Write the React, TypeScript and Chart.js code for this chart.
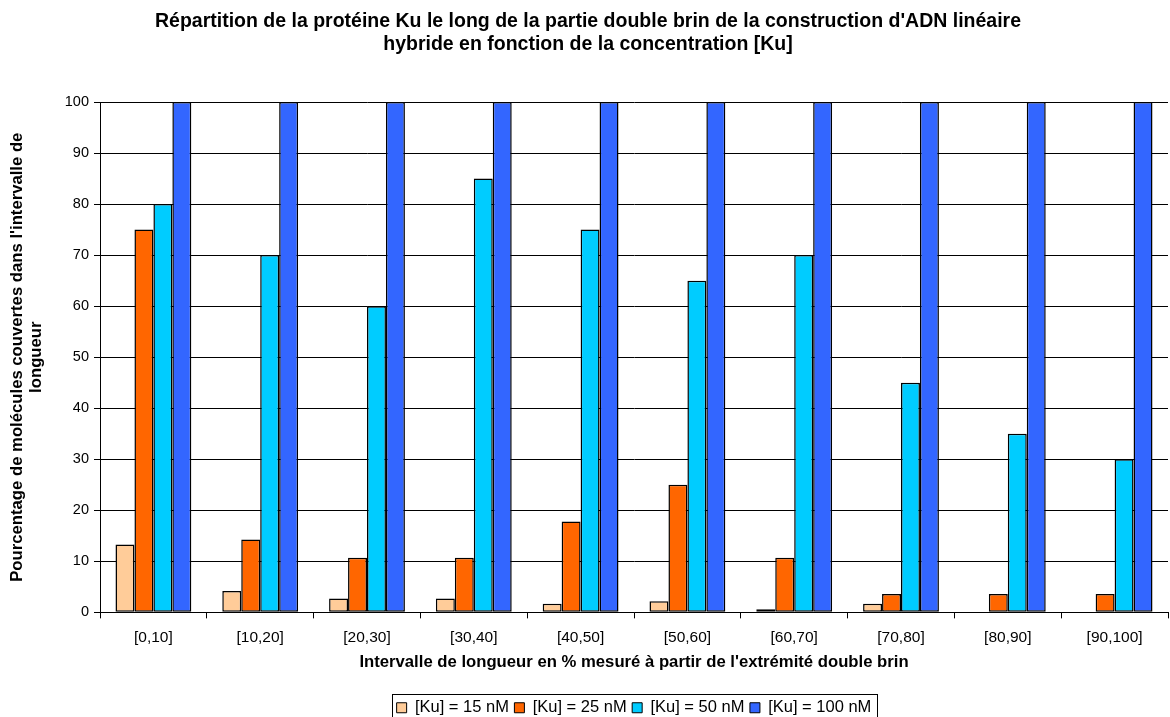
import React, { useEffect, useRef } from "react";
import { Chart, registerables } from "chart.js";

Chart.register(...registerables);

const categories = ["[0,10]", "[10,20]", "[20,30]", "[30,40]", "[40,50]", "[50,60]", "[60,70]", "[70,80]", "[80,90]", "[90,100]"];
const ku15 = [13.3, 4.2, 2.7, 2.7, 1.7, 2.2, 0.6, 1.7, 0, 0];
const ku25 = [75, 14.3, 10.7, 10.7, 17.8, 25, 10.7, 3.6, 3.6, 3.6];
const ku50 = [80, 70, 60, 85, 75, 65, 70, 45, 35, 30];
const ku100 = [100, 100, 100, 100, 100, 100, 100, 100, 100, 100];
const seriesLabels = ["[Ku] = 15 nM", "[Ku] = 25 nM", "[Ku] = 50 nM", "[Ku] = 100 nM"];
const seriesColors = ["#FFCC99", "#FF6600", "#00CCFF", "#3366FF"];
const yTicks = [0, 10, 20, 30, 40, 50, 60, 70, 80, 90, 100];

const FONT = "'Liberation Sans', Arial, sans-serif";

const legendShift = {
  id: "legendShift",
  afterLayout(chart: any) {
    const lg = chart.legend;
    const ca = chart.chartArea;
    if (!lg || !ca) return;
    lg.left = ca.left;
    lg.right = ca.right;
    lg.width = ca.right - ca.left;
    lg.top += 9;
    lg.bottom += 9;
  },
};

const legendBox = {
  id: "legendBox",
  afterDraw(chart: any) {
    const lg = chart.legend;
    if (!lg || !lg.legendHitBoxes || !lg.legendHitBoxes.length) return;
    const boxes = lg.legendHitBoxes;
    let l = Infinity, r = -Infinity, t = Infinity, b = -Infinity;
    boxes.forEach((h: any) => {
      l = Math.min(l, h.left);
      r = Math.max(r, h.left + h.width);
      t = Math.min(t, h.top);
      b = Math.max(b, h.top + h.height);
    });
    const ctx = chart.ctx;
    ctx.save();
    ctx.strokeStyle = "#000";
    ctx.lineWidth = 1;
    const x0 = Math.round(l - 5) + 0.5;
    const x1 = Math.round(r + 6) + 0.5;
    const y0 = Math.round(t - 6) + 0.5;
    ctx.strokeRect(x0, y0, x1 - x0, 30);
    ctx.restore();
  },
};

export default function App() {
  const ref = useRef<HTMLCanvasElement>(null);
  useEffect(() => {
    const data = [ku15, ku25, ku50, ku100];
    const chart = new Chart(ref.current!, {
      type: "bar",
      data: {
        labels: categories,
        datasets: data.map((d, i) => ({
          label: seriesLabels[i],
          data: d,
          backgroundColor: seriesColors[i],
          borderColor: "#000",
          borderWidth: 1.5,
          borderSkipped: false,
          categoryPercentage: 0.71,
          barPercentage: 1,
        })),
      },
      options: {
        animation: false,
        responsive: false,
        maintainAspectRatio: false,
        layout: { padding: { top: 10, right: 2, bottom: 0, left: 8 } },
        plugins: {
          title: {
            display: true,
            text: [
              "Répartition de la protéine Ku le long de la partie double brin de la construction d'ADN linéaire",
              "hybride en fonction de la concentration [Ku]",
            ],
            color: "#000",
            font: { family: FONT, size: 19.5, weight: "bold", lineHeight: 1.18 },
            padding: { top: 0, bottom: 46 },
          },
          legend: {
            position: "bottom",
            labels: {
              color: "#000",
              font: { family: FONT, size: 16.5 },
              boxWidth: 10,
              boxHeight: 10,
              padding: 5.5,
              generateLabels: (c: any) =>
                c.data.datasets.map((ds: any, i: number) => ({
                  text: ds.label,
                  fillStyle: ds.backgroundColor,
                  strokeStyle: "#000",
                  lineWidth: 1,
                  hidden: false,
                  datasetIndex: i,
                  fontColor: "#000",
                })),
            },
          },
          tooltip: { enabled: false },
        },
        scales: {
          x: {
            grid: { display: true, drawOnChartArea: false, drawTicks: true, tickLength: 6, color: "#000", offset: true },
            border: { color: "#000" },
            ticks: { color: "#000", font: { family: FONT, size: 15.5 }, padding: 10, maxRotation: 0 },
            title: {
              display: true,
              text: "Intervalle de longueur en % mesuré à partir de l'extrémité double brin",
              color: "#000",
              font: { family: FONT, size: 16.7, weight: "bold" },
              padding: { top: -5, bottom: 13 },
            },
          },
          y: {
            min: 0,
            max: 100,
            afterBuildTicks: (ax: any) => {
              ax.ticks = yTicks.map((v) => ({ value: v }));
            },
            afterFit: (ax: any) => {
              ax.width = 92;
            },
            grid: { color: "#000", tickLength: 6 },
            border: { color: "#000" },
            ticks: { color: "#000", font: { family: FONT, size: 14.5 }, padding: 5 },
            title: {
              display: true,
              text: ["Pourcentage de molécules couvertes dans l'intervalle de", "longueur"],
              color: "#000",
              font: { family: FONT, size: 16.7, weight: "bold", lineHeight: 1.15 },
              padding: { top: 0, bottom: 4 },
            },
          },
        },
      },
      plugins: [legendShift, legendBox],
    });
    return () => chart.destroy();
  }, []);
  return (
    <div style={{ position: "fixed", left: 0, top: 0, width: 1170, height: 717, background: "#fff" }}>
      <canvas ref={ref} width={1170} height={717} style={{ width: 1170, height: 717 }} />
    </div>
  );
}
